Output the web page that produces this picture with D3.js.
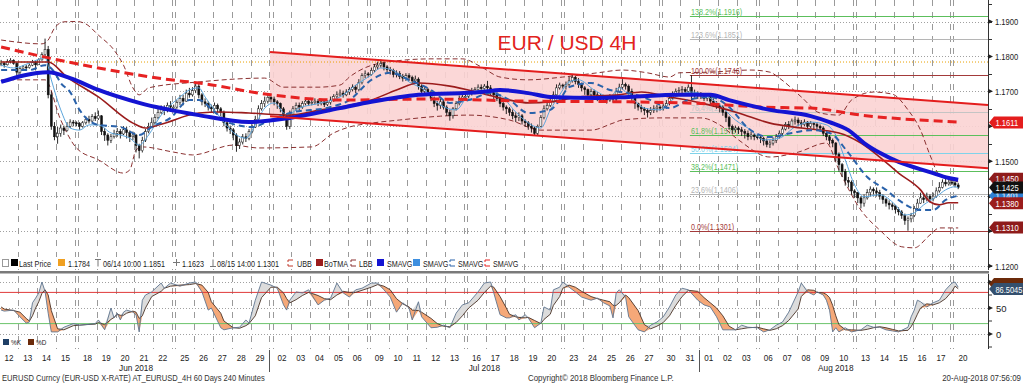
<!DOCTYPE html>
<html>
<head>
<meta charset="utf-8">
<script src="https://cdn.jsdelivr.net/npm/d3@7"></script>
<style>
  body { margin: 0; background: #fff; }
  text { font-family: "Liberation Sans", sans-serif; }
</style>
</head>
<body>
<div id="chart"></div>
<script>
// ---- data (prices in pips above 1.1000) ----
const tradingDays = ['2018-06-12','2018-06-13','2018-06-14','2018-06-15',
    '2018-06-18','2018-06-19','2018-06-20','2018-06-21','2018-06-22',
    '2018-06-25','2018-06-26','2018-06-27','2018-06-28','2018-06-29',
    '2018-07-02','2018-07-03','2018-07-04','2018-07-05','2018-07-06',
    '2018-07-09','2018-07-10','2018-07-11','2018-07-12','2018-07-13',
    '2018-07-16','2018-07-17','2018-07-18','2018-07-19','2018-07-20',
    '2018-07-23','2018-07-24','2018-07-25','2018-07-26','2018-07-27',
    '2018-07-30','2018-07-31','2018-08-01','2018-08-02','2018-08-03',
    '2018-08-06','2018-08-07','2018-08-08','2018-08-09','2018-08-10',
    '2018-08-13','2018-08-14','2018-08-15','2018-08-16','2018-08-17',
    '2018-08-20']
const monthLabels = ['Jun 2018', 'Jul 2018', 'Aug 2018']

const closePips = [780,776,785,789,780,755, 765,770,768,775,782,776, 790,805,820,690,600,570,
    580,595,588,600,612,610,608, 600,610,620,615,628,622, 630,585,575,560,570,580,
    585,578,590,582,570,575, 545,530,560,585,600,610, 625,640,650,645,660,655,655,
    668,680,672,695,690,702, 715,690,670,665,655,650, 660,650,640,610,595,590,
    575,545,555,570,565,585, 598,620,650,665,672,683,678, 670,665,650,630,600,635,
    650,660,655,665,672,665, 668,672,665,670,662,668, 675,685,690,695,690,698,
    705,712,705,725,745,750,748, 760,770,775,780,770,762, 760,748,752,742,738,745,
    740,730,735,715,700,705, 698,680,665,660,670,655, 640,630,650,665,680,684,686,
    695,700,705,712,708,715, 710,700,690,680,665,655, 650,640,630,625,630,615,
    610,600,595,580,600,625, 650,660,672,690,710,718,715, 720,730,740,728,720,710,
    705,690,700,690,680,685, 680,675,685,678,700,712, 720,715,700,685,665,655,
    650,645,640,645,650,655,652, 658,665,680,690,700,702, 705,700,712,690,695,690,
    688,680,685,672,665,660, 655,640,625,600,590,595, 590,585,580,570,575,570,568,
    565,558,548,552,560,570, 580,592,605,600,615,618, 610,605,612,600,608,605,
    600,595,580,570,560,552, 520,490,470,445,440,415,410, 395,380,395,410,420,415,
    410,400,390,380,375,370, 362,355,345,330,335,345, 365,380,395,390,400,392,
    400,415,425,440,435,440,438, 432,425]
const highPips = [790,784,792,795,792,784, 770,775,776,780,790,788, 795,812,851,830,700,612,
    598,605,602,612,620,618,614, 612,615,628,630,635,640, 645,632,595,580,578,590,
    595,592,600,598,588,585, 578,550,570,592,610,625, 635,650,660,660,668,672,662,
    675,690,690,705,710,712, 725,722,695,680,672,662, 668,665,655,645,615,602,
    595,580,565,578,580,592, 605,630,660,675,685,690,686, 685,675,668,655,635,645,
    658,668,668,672,680,678, 675,680,678,678,675,674, 685,692,700,705,702,706,
    712,720,718,735,752,760,755, 768,778,785,791,785,775, 770,765,760,758,750,752,
    752,745,745,740,720,712, 710,702,685,672,678,675, 660,648,655,672,688,692,692,
    702,710,712,720,720,721, 730,718,705,698,685,670, 660,655,648,640,640,635,
    620,615,608,600,605,632, 660,672,682,700,720,725,722, 728,742,750,745,738,725,
    715,708,708,705,698,692, 690,688,692,690,710,722, 735,725,720,708,690,668,
    662,655,652,655,660,662,660, 665,675,688,700,708,712, 715,712,720,746,705,700,
    698,695,692,690,680,672, 665,660,645,630,605,602, 600,598,592,588,585,580,575,
    572,570,565,560,568,578, 588,600,612,615,622,628, 625,618,620,615,615,612,
    612,605,600,585,575,565, 555,525,495,478,455,445,420, 412,400,405,420,428,425,
    425,418,405,395,388,382, 375,368,360,350,342,352, 372,392,410,408,410,405,
    410,425,440,448,450,448,445, 445,438]
const lowPips = [772,768,774,780,776,738, 748,760,762,765,772,760, 776,788,800,680,590,560,
    550,570,575,585,595,600,600, 590,596,605,608,612,615, 618,575,558,545,552,565,
    570,565,575,565,555,560, 525,508,525,555,580,595, 605,620,635,632,640,645,645,
    650,660,660,670,682,685, 695,680,660,655,645,640, 645,640,628,600,585,578,
    560,527,535,548,555,560, 580,595,615,645,655,665,668, 660,650,640,620,590,592,
    630,645,645,650,660,658, 660,662,658,660,655,658, 662,670,678,685,682,686,
    690,700,695,700,720,738,740, 745,755,762,768,760,755, 748,740,740,735,728,730,
    730,720,722,705,690,692, 688,672,655,645,650,648, 630,616,622,645,660,672,678,
    680,688,692,698,700,702, 690,688,675,672,655,645, 635,630,620,612,615,605,
    598,590,582,575,575,598, 620,645,655,668,688,705,708, 705,715,725,720,710,700,
    690,682,685,678,672,672, 670,665,670,668,672,695, 705,705,690,670,650,645,
    640,632,625,632,638,640,645, 645,650,660,675,685,692, 692,690,695,675,682,678,
    678,672,672,662,655,650, 640,630,612,590,578,582, 578,572,565,560,562,560,562,
    552,545,540,538,545,552, 565,575,588,592,598,605, 600,595,600,590,595,592,
    590,585,572,560,548,540, 500,470,455,430,425,405,395, 380,365,370,390,400,405,
    400,390,378,370,362,360, 350,345,335,318,301,325, 340,362,378,380,385,382,
    385,395,410,422,428,430,432, 425,420]

// indicator lines: [bar, pips]
const smaBluePts = [[0,727],[15,755],[22,738],[31,704],[44,667],[63,632],[79,612],[92,624],[108,652],
    [118,670],[133,690],[153,698],[159,704],[168,695],[175,684],[190,681],[200,684],[216,690],[226,690],
    [232,675],[245,647],[258,629],[264,612],[270,589],[275,552],[280,524],[286,498],[296,469],[302,452],[305,447]]
const smaRedPts = [[0,827],[14,798],[31,767],[54,733],[63,724],[86,690],[108,675],[137,678],[168,672],
    [200,670],[226,664],[242,655],[258,652],[274,632],[305,612]]
const botmaPts = [[0,784],[15,784],[21,741],[31,684],[42,609],[46,595],[51,606],[63,638],[70,641],[79,638],
    [92,632],[102,647],[108,655],[118,675],[126,704],[133,724],[143,715],[153,695],[162,675],[168,667],
    [175,670],[184,684],[197,690],[204,698],[213,684],[223,667],[235,638],[245,609],[255,595],[267,581],
    [274,552],[280,512],[286,466],[293,418],[296,384],[299,375],[302,381],[305,381]]
const smaDashPts = [[0,761],[9,761],[14,775],[17,755],[19,724],[22,698],[25,647],[31,604],[38,598],[44,575],
    [48,598],[54,624],[60,675],[63,675],[68,641],[73,609],[80,598],[86,618],[92,638],[105,655],[111,675],
    [118,733],[124,753],[130,733],[137,704],[143,667],[149,675],[156,695],[162,675],[168,638],[175,647],
    [178,675],[181,712],[188,724],[194,704],[200,695],[207,675],[213,652],[219,675],[226,684],[232,655],
    [238,595],[245,569],[252,581],[258,589],[264,581],[270,524],[276,455],[282,418],[286,389],[293,360],
    [297,360],[301,389],[305,401]]
const smaFastPts = [[0,775],[4,767],[9,781],[14,796],[16,733],[19,647],[22,595],[25,589],[28,604],[31,604],
    [35,581],[38,575],[41,566],[44,546],[47,575],[51,632],[54,661],[57,684],[60,704],[63,710],[65,684],
    [68,647],[71,612],[75,575],[78,566],[81,604],[84,652],[87,667],[91,632],[95,652],[102,667],[108,684],
    [113,718],[118,747],[121,767],[126,755],[130,727],[135,704],[140,661],[145,647],[149,690],[154,704],
    [159,690],[164,641],[169,604],[172,595],[175,647],[178,690],[181,727],[184,733],[189,704],[194,684],
    [197,710],[200,690],[205,652],[210,647],[215,684],[220,698],[224,690],[229,661],[234,618],[239,589],
    [243,561],[248,566],[253,598],[258,612],[263,604],[266,575],[269,504],[272,432],[275,398],[280,404],
    [285,375],[288,346],[291,352],[294,375],[298,398],[301,418],[304,427],[305,424]]
const ubbPts = [[0,847],[13,836],[15,847],[17,881],[20,899],[24,900],[27,893],[31,861],[36,818],[39,775],
    [42,710],[44,690],[47,710],[63,727],[84,738],[90,712],[101,712],[108,718],[111,741],[121,781],[137,793],
    [147,793],[153,770],[159,741],[168,733],[179,741],[190,753],[198,761],[206,753],[213,741],[216,753],
    [226,755],[239,761],[245,755],[248,738],[255,684],[261,638],[267,632],[271,675],[278,698],[284,692],
    [289,647],[293,589],[296,518],[299,461],[305,441]]
const lbbPts = [[0,733],[14,733],[19,618],[24,538],[31,504],[39,466],[41,475],[43,532],[45,541],[55,526],
    [61,518],[74,546],[82,538],[99,541],[106,581],[111,598],[118,609],[127,618],[140,629],[149,632],
    [162,618],[172,589],[188,589],[195,609],[198,618],[210,624],[223,624],[229,604],[235,561],[245,512],
    [254,526],[263,552],[267,475],[274,360],[280,303],[287,255],[291,252],[296,289],[299,309],[305,309]]

// trend channel, [bar, pips] at both ends
const channelUpper = [[85.7,813],[314.5,661]]
const channelLower = [[85.7,629],[314.5,480]]

// fibonacci retracement (low 1.1301 -> high 1.1746 on 31 Jul)
const fibStartBar = 219.5
const fibPct = ['138.2%','123.6%','100.0%','76.4%','61.8%','50.0%','38.2%','23.6%','0.0%']
const fibVal = [1.1916,1.1851,1.1746,1.1641,1.1576,1.1524,1.1471,1.1406,1.1301]

const lastPriceRef = 1.1784
const priceTicks = [1.12,1.13,1.14,1.15,1.16,1.17,1.18,1.19]
const calloutVals = [1.1401,1.1450,1.1380,1.1425,1.1310,1.1611]

// stochastics
const stochBar = [0,1,4,6,8,9,10,11,12,13,14,15,16,18,20,23,25,27,30,31,33,35,36,37,38,39,40,42,43,44,
    45,46,48,51,52,54,57,60,62,64,66,67,70,71,74,76,78,79,81,83,86,88,90,91,92,94,96,98,101,103,
    105,107,109,111,113,115,118,120,122,124,126,128,130,131,133,134,137,139,141,143,145,147,149,152,154,156,157,159,161,162,
    164,165,167,168,170,172,173,175,176,178,179,181,183,185,188,190,192,194,195,196,197,199,200,203,205,207,209,211,213,215,
    217,219,222,224,226,228,230,232,234,236,238,241,243,245,247,249,251,254,255,257,259,260,262,263,264,265,266,267,269,271,
    274,276,278,280,282,284,286,289,290,291,292,293,295,297,299,301,303,304,305]
const stochK = [46,44,46,33,21,23,60,69,79,100,82,40,4,4,13,20,17,18,20,27,8,50,31,40,27,42,46,42,37,4,
    65,75,81,98,88,98,92,98,100,81,46,50,12,8,12,13,27,21,65,100,94,88,56,46,65,81,79,85,56,65,
    69,98,79,71,85,88,98,98,85,71,42,60,50,27,62,33,12,13,17,12,40,56,60,81,98,100,79,37,31,31,
    37,27,37,31,12,21,52,46,85,90,100,90,81,71,65,69,60,54,31,79,85,71,33,8,4,17,23,33,52,75,
    88,85,65,56,52,33,8,8,8,17,13,12,4,8,17,23,42,81,98,81,75,81,75,65,46,4,12,4,12,4,
    8,17,13,13,8,6,4,13,33,46,65,62,52,60,65,85,98,100,90]
const stochD = [52,48,45,42,30,25,35,50,62,78,85,75,45,10,8,16,17,18,19,22,18,28,32,38,36,36,40,44,42,30,
    35,50,72,82,88,92,94,95,97,94,80,62,40,25,12,11,16,20,35,70,90,90,79,68,60,66,74,80,74,68,
    66,75,82,80,80,84,90,95,92,85,68,58,52,46,45,42,30,20,15,14,22,35,50,65,80,92,90,72,50,38,
    33,32,31,32,26,20,28,38,55,72,88,94,90,82,72,68,65,62,55,55,60,75,70,45,18,10,15,22,35,55,
    72,84,82,70,60,50,35,15,8,10,12,13,10,7,10,16,26,48,72,85,84,80,79,76,70,55,35,18,8,8,
    7,9,12,14,12,9,6,7,14,25,38,50,58,56,60,68,82,92,87]
const stochTicks = [0, 50, 100]
const stochLevels = [80, 20]
const stochLast = 86.5045

// ---- layout ----
const width = 1023, height = 384
const plotRight = 988
const priceBottom = 270
const stochTop = 274, stochBottom = 349

const svg = d3.select('#chart').append('svg')
    .attr('width', width)
    .attr('height', height)
    .style('display', 'block')

// Bloomberg text is narrower than Liberation Sans, squeeze it
function squeeze(sel, f) {
    sel.each(function() {
        const w = this.getComputedTextLength()
        if (w > 0) d3.select(this).attr('textLength', w * f).attr('lengthAdjust', 'spacingAndGlyphs')
    })
    return sel
}

// build the bar calendar: 6 bars a day, plus one Sunday bar before each Monday
let barCount = 0
const dayStart = []
const boundaries = []
tradingDays.forEach(function(d, i) {
    const wd = new Date(d + 'T00:00:00Z').getUTCDay()
    if (i > 0 && wd === 1) {
        boundaries.push(barCount)
        barCount += 1
    }
    boundaries.push(barCount)
    dayStart.push(barCount)
    barCount += 6
})

const x = d3.scaleLinear().domain([-0.5, 314.5]).range([-0.45, plotRight])
const y = d3.scaleLinear().domain([1.12, 1.19]).range([266, 21.5])
const ys = d3.scaleLinear().domain([0, 100]).range([334, 282])
const pipToPrice = function(p) { return 1.1 + p / 10000 }

// price labels that sit fully under a value callout are not shown
const hiddenTicks = priceTicks.filter(function(t) {
    return calloutVals.some(function(v) { return Math.abs(y(v) - y(t)) < 5 })
})

// ---- grid ----
const grid = svg.append('g')
grid.selectAll('line.h')
    .data(priceTicks)
    .enter().append('line')
    .attr('x1', 0).attr('x2', plotRight)
    .attr('y1', function(d) { return Math.round(y(d)) + 0.5 })
    .attr('y2', function(d) { return Math.round(y(d)) + 0.5 })
    .attr('stroke', '#a0a0a0')
    .attr('stroke-dasharray', '1,2')

grid.selectAll('line.v')
    .data(boundaries.slice(1))
    .enter().append('line')
    .attr('x1', function(d) { return Math.round(x(d - 0.5)) + 0.5 })
    .attr('x2', function(d) { return Math.round(x(d - 0.5)) + 0.5 })
    .attr('y1', 0).attr('y2', stochBottom)
    .attr('stroke', '#9a9a9a')
    .attr('stroke-dasharray', '6,6')

// ---- channel fill ----
const chanPoly = channelUpper.concat(channelLower.slice().reverse())
svg.append('path')
    .attr('d', d3.line()
        .x(function(d) { return x(d[0]) })
        .y(function(d) { return y(pipToPrice(d[1])) })(chanPoly) + 'Z')
    .attr('fill', '#fbd3d3')
    .attr('opacity', 0.9)

// orange last price reference
svg.append('line')
    .attr('x1', 0).attr('x2', plotRight)
    .attr('y1', y(lastPriceRef)).attr('y2', y(lastPriceRef))
    .attr('stroke', '#e8a000')
    .attr('stroke-dasharray', '1,2')

// ---- fibonacci ----
const fibColor = { '138.2%': '#5cbf5c', '123.6%': '#b5b5b5', '100.0%': '#a33a3a', '76.4%': '#c4c4c4',
    '61.8%': '#5cbf5c', '50.0%': '#7fd3ea', '38.2%': '#5cbf5c', '23.6%': '#b5b5b5', '0.0%': '#a33a3a' }
const fib = svg.append('g')
fibVal.forEach(function(v, i) {
    const c = fibColor[fibPct[i]]
    fib.append('line')
        .attr('x1', x(fibStartBar)).attr('x2', plotRight)
        .attr('y1', Math.round(y(v)) + 0.5).attr('y2', Math.round(y(v)) + 0.5)
        .attr('stroke', c)
    squeeze(fib.append('text')
        .attr('x', x(fibStartBar) + 1)
        .attr('y', Math.round(y(v)) - 1)
        .attr('font-size', 9)
        .attr('fill', c)
        .text(fibPct[i] + '(' + v.toFixed(4) + ')'), 0.8)
})

// ---- indicator lines ----
function pipLine(pts) {
    return d3.line()
        .curve(d3.curveMonotoneX)
        .x(function(d) { return x(d[0]) })
        .y(function(d) { return y(pipToPrice(d[1])) })(pts)
}
svg.append('path').attr('d', pipLine(ubbPts)).attr('fill', 'none')
    .attr('stroke', '#8a3030').attr('stroke-width', 1).attr('stroke-dasharray', '5,3')
svg.append('path').attr('d', pipLine(lbbPts)).attr('fill', 'none')
    .attr('stroke', '#8a3030').attr('stroke-width', 1).attr('stroke-dasharray', '5,3')

// ---- candles ----
const candles = closePips.map(function(c, i) {
    const o = i === 0 ? c : closePips[i - 1]
    return { i: i, o: pipToPrice(o), c: pipToPrice(c), h: pipToPrice(highPips[i]), l: pipToPrice(lowPips[i]) }
})
const cg = svg.append('g')
cg.selectAll('line')
    .data(candles)
    .enter().append('line')
    .attr('x1', function(d) { return x(d.i) })
    .attr('x2', function(d) { return x(d.i) })
    .attr('y1', function(d) { return y(Math.max(d.h, d.o, d.c)) })
    .attr('y2', function(d) { return y(Math.min(d.l, d.o, d.c)) })
    .attr('stroke', '#111')
    .attr('stroke-width', 0.9)
cg.selectAll('rect')
    .data(candles)
    .enter().append('rect')
    .attr('x', function(d) { return x(d.i) - 1 })
    .attr('width', 2)
    .attr('y', function(d) { return y(Math.max(d.o, d.c)) })
    .attr('height', function(d) { return Math.max(1, y(Math.min(d.o, d.c)) - y(Math.max(d.o, d.c))) })
    .attr('fill', function(d) { return d.c >= d.o ? '#fff' : '#111' })
    .attr('stroke', '#111')
    .attr('stroke-width', 0.5)

svg.append('path').attr('d', pipLine(smaFastPts)).attr('fill', 'none')
    .attr('stroke', '#5aa5dc').attr('stroke-width', 1)
svg.append('path').attr('d', pipLine(botmaPts)).attr('fill', 'none')
    .attr('stroke', '#9b1c1c').attr('stroke-width', 1.6)
svg.append('path').attr('d', pipLine(smaDashPts)).attr('fill', 'none')
    .attr('stroke', '#2a62aa').attr('stroke-width', 2).attr('stroke-dasharray', '6,4')
svg.append('path').attr('d', pipLine(smaRedPts)).attr('fill', 'none')
    .attr('stroke', '#e62222').attr('stroke-width', 3).attr('stroke-dasharray', '9,5')
svg.append('path').attr('d', pipLine(smaBluePts)).attr('fill', 'none')
    .attr('stroke', '#1414d2').attr('stroke-width', 4)

// channel borders
;[channelUpper, channelLower].forEach(function(ch) {
    svg.append('line')
        .attr('x1', x(ch[0][0])).attr('y1', y(pipToPrice(ch[0][1])))
        .attr('x2', x(ch[1][0])).attr('y2', y(pipToPrice(ch[1][1])))
        .attr('stroke', '#e41d1d').attr('stroke-width', 2)
})

// title
svg.append('text')
    .attr('x', 567).attr('y', 50)
    .attr('text-anchor', 'middle')
    .attr('font-size', 21)
    .attr('fill', '#e2231d')
    .text('EUR / USD 4H')

// ---- legend row ----
const legendY = 263
svg.append('rect').attr('x', 0).attr('y', 257).attr('width', 522).attr('height', 12).attr('fill', '#fff')
const legendItems = [
    { ix: 11, tx: 19, t: 'Last Price', icon: 'sq', c: '#000' },
    { ix: 58, tx: 68, t: '1.1784', icon: 'sq', c: '#f0a020' },
    { ix: 95, tx: 103, t: '06/14 10:00 1.1851', icon: 'top', c: '#777' },
    { ix: 173, tx: 182, t: '1.1623', icon: 'plus', c: '#777' },
    { ix: 210, tx: 217, t: '08/15 14:00 1.1301', icon: 'bot', c: '#777' },
    { ix: 287, tx: 297, t: 'UBB', icon: 'dash', c: '#c0392b' },
    { ix: 316, tx: 324, t: 'BoTMA', icon: 'sq', c: '#9b1c1c' },
    { ix: 350, tx: 359, t: 'LBB', icon: 'dash', c: '#8a3030' },
    { ix: 377, tx: 387, t: 'SMAVG', icon: 'sq', c: '#1414d2' },
    { ix: 413, tx: 423, t: 'SMAVG', icon: 'sq', c: '#3d8fe0' },
    { ix: 449, tx: 458, t: 'SMAVG', icon: 'dash', c: '#2a62aa' },
    { ix: 484, tx: 493, t: 'SMAVG', icon: 'dash', c: '#e62222' }
]
svg.append('rect').attr('x', 2.5).attr('y', legendY - 3.5).attr('width', 6).attr('height', 7)
    .attr('fill', 'none').attr('stroke', '#999')
legendItems.forEach(function(d) {
    const g = svg.append('g').attr('transform', 'translate(' + d.ix + ',' + (legendY - 4) + ')')
    if (d.icon === 'sq') {
        g.append('rect').attr('width', 7).attr('height', 7).attr('fill', d.c)
    } else if (d.icon === 'dash') {
        g.append('path').attr('d', 'M1,1 h5 M1,1 v2 M1,5 v2 h5').attr('stroke', d.c).attr('fill', 'none')
    } else if (d.icon === 'top') {
        g.append('path').attr('d', 'M0,0.5 h6 M3,0.5 v7').attr('stroke', d.c).attr('fill', 'none')
    } else if (d.icon === 'bot') {
        g.append('path').attr('d', 'M0,7.5 h6 M3,7.5 v-7').attr('stroke', d.c).attr('fill', 'none')
    } else {
        g.append('path').attr('d', 'M0,3.5 h7 M3.5,0 v7').attr('stroke', d.c).attr('fill', 'none')
    }
    squeeze(svg.append('text').attr('x', d.tx).attr('y', legendY + 3.5)
        .attr('font-size', 9).attr('fill', '#222').text(d.t), 0.8)
})

// ---- price axis ----
svg.append('line').attr('x1', plotRight + 0.5).attr('x2', plotRight + 0.5)
    .attr('y1', 0).attr('y2', priceBottom).attr('stroke', '#333')
const minorTicks = d3.range(1.115, 1.2, 0.005)
svg.selectAll('line.minor')
    .data(minorTicks)
    .enter().append('line')
    .attr('x1', plotRight).attr('x2', plotRight + 4)
    .attr('y1', function(d) { return Math.round(y(d)) + 0.5 })
    .attr('y2', function(d) { return Math.round(y(d)) + 0.5 })
    .attr('stroke', '#333')
svg.selectAll('path.tick')
    .data(priceTicks)
    .enter().append('path')
    .attr('d', function(d) { const yy = y(d); return 'M' + plotRight + ',' + (yy - 2.5) + 'L' + (plotRight + 5) + ',' + yy + 'L' + plotRight + ',' + (yy + 2.5) + 'Z' })
    .attr('fill', '#222')
squeeze(svg.selectAll('text.ptick')
    .data(priceTicks.filter(function(t) { return hiddenTicks.indexOf(t) < 0 }))
    .enter().append('text')
    .attr('x', plotRight + 7)
    .attr('y', function(d) { return y(d) + 3.5 })
    .attr('font-size', 9.5)
    .attr('fill', '#222')
    .text(d3.format('.4f')), 0.8)

// right side value callouts
const calloutFill = { '1.1401': '#2d7fd3', '1.1450': '#8e1b1b', '1.1380': '#9b1c1c',
    '1.1425': '#111', '1.1310': '#8e1b1b', '1.1611': '#e41d1d' }
function callout(yy, fill, label, f) {
    svg.append('path')
        .attr('d', 'M' + (plotRight + 1) + ',' + yy + 'L' + (plotRight + 6) + ',' + (yy - 6) + 'H' + width +
            'V' + (yy + 6) + 'H' + (plotRight + 6) + 'Z')
        .attr('fill', fill)
    if (label) {
        squeeze(svg.append('text').attr('x', plotRight + 7.5).attr('y', yy + 3.5)
            .attr('font-size', 9.5).attr('fill', '#fff').text(label), f)
    }
}
calloutVals.forEach(function(v) {
    callout(y(v), calloutFill[v.toFixed(4)], v.toFixed(4), 0.8)
})

// ---- panel separator ----
svg.append('rect').attr('x', 0).attr('y', 271).attr('width', plotRight + 1).attr('height', 2.5).attr('fill', '#7a7a7a')

// ---- stochastics panel ----
svg.selectAll('line.sg')
    .data(stochTicks)
    .enter().append('line')
    .attr('x1', 0).attr('x2', plotRight)
    .attr('y1', function(d) { return Math.round(ys(d)) + 0.5 })
    .attr('y2', function(d) { return Math.round(ys(d)) + 0.5 })
    .attr('stroke', '#a0a0a0').attr('stroke-dasharray', '1,2')

const stoch = stochBar.map(function(b, i) { return { b: b, k: stochK[i], d: stochD[i] } })
svg.append('path')
    .datum(stoch)
    .attr('d', d3.area()
        .x(function(d) { return x(d.b) })
        .y0(function(d) { return ys(d.d) })
        .y1(function(d) { return ys(Math.max(d.k, d.d)) }))
    .attr('fill', '#dcdcdc')
svg.append('path')
    .datum(stoch)
    .attr('d', d3.area()
        .x(function(d) { return x(d.b) })
        .y0(function(d) { return ys(d.d) })
        .y1(function(d) { return ys(Math.min(d.k, d.d)) }))
    .attr('fill', '#f5a878')

svg.selectAll('line.lvl')
    .data(stochLevels)
    .enter().append('line')
    .attr('x1', 0).attr('x2', plotRight)
    .attr('y1', function(d) { return ys(d) }).attr('y2', function(d) { return ys(d) })
    .attr('stroke', function(d) { return d > 50 ? '#e03a3a' : '#6cc46c' })

svg.append('path').datum(stoch)
    .attr('d', d3.line().x(function(d) { return x(d.b) }).y(function(d) { return ys(d.d) }))
    .attr('fill', 'none').attr('stroke', '#4a3226').attr('stroke-width', 0.9)
svg.append('path').datum(stoch)
    .attr('d', d3.line().x(function(d) { return x(d.b) }).y(function(d) { return ys(d.k) }))
    .attr('fill', 'none').attr('stroke', '#5f7590').attr('stroke-width', 0.9)

// stoch legend
svg.append('rect').attr('x', 3).attr('y', 339).attr('width', 6).attr('height', 6).attr('fill', '#1f3f66')
squeeze(svg.append('text').attr('x', 11).attr('y', 345).attr('font-size', 8).attr('fill', '#222').text('%K'), 0.8)
svg.append('rect').attr('x', 28).attr('y', 339).attr('width', 6).attr('height', 6).attr('fill', '#6b2a0a')
squeeze(svg.append('text').attr('x', 36).attr('y', 345).attr('font-size', 8).attr('fill', '#222').text('%D'), 0.8)

// stoch axis
svg.append('line').attr('x1', plotRight + 0.5).attr('x2', plotRight + 0.5)
    .attr('y1', stochTop).attr('y2', stochBottom).attr('stroke', '#333')
svg.selectAll('line.sminor')
    .data([-25, 25, 75])
    .enter().append('line')
    .attr('x1', plotRight).attr('x2', plotRight + 4)
    .attr('y1', function(d) { return ys(d) }).attr('y2', function(d) { return ys(d) })
    .attr('stroke', '#333')
svg.selectAll('path.stick')
    .data(stochTicks)
    .enter().append('path')
    .attr('d', function(d) { const yy = ys(d); return 'M' + plotRight + ',' + (yy - 2.5) + 'L' + (plotRight + 5) + ',' + yy + 'L' + plotRight + ',' + (yy + 2.5) + 'Z' })
    .attr('fill', '#222')
// the 100 label sits under the last-value callouts
svg.selectAll('text.stick')
    .data(stochTicks.filter(function(t) { return Math.abs(ys(t) - ys(stochLast)) > 8 }))
    .enter().append('text')
    .attr('x', plotRight + 8)
    .attr('y', function(d) { return ys(d) + 3.5 })
    .attr('font-size', 9.5).attr('fill', '#222')
    .text(function(d) { return d })
callout(ys(stochLast) - 5, '#6b2a0a', '', 1)
callout(ys(stochLast), '#34506e', stochLast.toFixed(4), 0.78)

// ---- time axis ----
squeeze(svg.selectAll('text.day')
    .data(tradingDays)
    .enter().append('text')
    .attr('x', function(d, i) { return x(dayStart[i] + 2.5) })
    .attr('y', 361)
    .attr('text-anchor', 'middle')
    .attr('font-size', 9.5).attr('fill', '#222')
    .text(function(d) { return d.slice(8) }), 0.85)

// month spans: from the first bar of the month (a Sunday bar counts) to the last
const monthFirst = [0]
tradingDays.forEach(function(d, i) {
    if (i > 0 && d.slice(5, 7) !== tradingDays[i - 1].slice(5, 7)) monthFirst.push(i)
})
monthFirst.forEach(function(di, m) {
    const wd = new Date(tradingDays[di] + 'T00:00:00Z').getUTCDay()
    const startBar = (m > 0 && wd === 1 && tradingDays[di].slice(8) !== '01') ? dayStart[di] - 1 : dayStart[di]
    const endBar = m < monthFirst.length - 1 ? dayStart[monthFirst[m + 1]] - 1 : dayStart[tradingDays.length - 1] + 5
    if (m > 0) {
        svg.append('line')
            .attr('x1', Math.round(x(startBar - 0.5)) + 0.5).attr('x2', Math.round(x(startBar - 0.5)) + 0.5)
            .attr('y1', 350).attr('y2', 372)
            .attr('stroke', '#555')
    }
    squeeze(svg.append('text')
        .attr('x', (x(startBar - 0.5) + x(endBar + 0.5)) / 2)
        .attr('y', 371)
        .attr('text-anchor', 'middle')
        .attr('font-size', 9.5).attr('fill', '#222')
        .text(monthLabels[m]), 0.87)
})

// footer
squeeze(svg.append('text').attr('x', 2).attr('y', 381).attr('font-size', 9).attr('fill', '#333')
    .text('EURUSD Curncy (EUR-USD X-RATE) AT_EURUSD_4H 60 Days 240 Minutes'), 0.84)
squeeze(svg.append('text').attr('x', 528).attr('y', 381).attr('font-size', 9).attr('fill', '#333')
    .text('Copyright\u00a9 2018 Bloomberg Finance L.P.'), 0.88)
squeeze(svg.append('text').attr('x', 1021).attr('y', 381).attr('text-anchor', 'end').attr('font-size', 9).attr('fill', '#333')
    .text('20-Aug-2018 07:56:09'), 0.88)
</script>
</body>
</html>
